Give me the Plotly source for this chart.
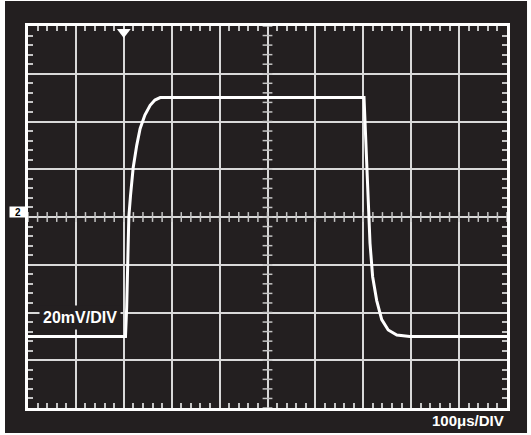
import plotly.graph_objects as go

# tempo em microssegundos, tensao em mV (20mV/div, 100us/div)
time_us = [0, 203.5, 206, 208.5, 210.5, 214, 219.5, 227, 234, 244, 255, 265, 276,
           701.5, 704.5, 707, 710.5, 714, 719.5, 728, 738.5, 752, 770, 797, 1000]
volts_mv = [-50, -50, -38, -10, 0, 9, 20.5, 30, 37, 42.7, 46.8, 49, 50,
            50, 35, 20.5, 1, -11, -25, -35, -43, -47.3, -49.4, -50, -50]

x_range = [0, 1000]
y_range = [-80, 80]
x_div = 100
y_div = 20
x_minor = [t for t in range(0, 1001, 20)]
y_minor = [v for v in range(-80, 81, 4)]
trigger_time = 200
channel_label = '2'
volt_label = '20mV/DIV'
time_label = '100μs/DIV'

bg = '#231f20'
grid = '#d9d9d9'
tick = '#c4c4c4'
font = 'Liberation Sans, Arial, sans-serif'

fig = go.Figure()

# marcas no eixo horizontal central
fig.add_trace(go.Scatter(
    x=x_minor, y=[0] * len(x_minor), mode='markers',
    marker=dict(symbol='line-ns', size=7, line=dict(color=tick, width=1.5)),
    hoverinfo='skip',
))
# marcas no eixo vertical central
fig.add_trace(go.Scatter(
    x=[500] * len(y_minor), y=y_minor, mode='markers',
    marker=dict(symbol='line-ew', size=7, line=dict(color=tick, width=1.5)),
    hoverinfo='skip',
))

# forma de onda
fig.add_trace(go.Scatter(
    x=time_us, y=volts_mv, mode='lines',
    line=dict(color='white', width=3),
    hoverinfo='skip',
))

# marcador do trigger
fig.add_trace(go.Scatter(
    x=[trigger_time], y=[77.5], mode='markers',
    marker=dict(symbol='triangle-down', size=12, color='white', line=dict(width=0)),
    cliponaxis=False, hoverinfo='skip',
))

axis_common = dict(
    showgrid=True, gridcolor=grid, gridwidth=1.5, zeroline=False,
    showline=True, linecolor='white', linewidth=2.5, mirror='ticks',
    ticks='', showticklabels=False, fixedrange=True,
)

fig.update_xaxes(range=x_range, dtick=x_div, tick0=0,
                 minor=dict(ticks='inside', dtick=20, ticklen=5, tickwidth=1.5,
                            tickcolor=tick, showgrid=False),
                 **axis_common)
fig.update_yaxes(range=y_range, dtick=y_div, tick0=0,
                 minor=dict(ticks='inside', dtick=4, ticklen=5, tickwidth=1.5,
                            tickcolor=tick, showgrid=False),
                 **axis_common)

fig.update_layout(
    width=531, height=435,
    margin=dict(l=28, r=24, t=26, b=27),
    paper_bgcolor='white',
    plot_bgcolor=bg,
    showlegend=False,
    hovermode=False,
    shapes=[dict(type='rect', xref='paper', yref='paper', layer='below',
                 x0=-0.048, x1=1.0418, y0=-0.0654, y1=1.0654,
                 fillcolor=bg, line=dict(width=0))],
    annotations=[
        dict(text=f'<b>{channel_label}</b>', xref='paper', yref='y', x=0, y=0,
             xanchor='right', yanchor='bottom', yshift=-1, xshift=-1,
             showarrow=False, bgcolor='white', width=14, height=8, borderpad=1,
             font=dict(family=font, size=10, color='black')),
        dict(text=f'<b>{volt_label}</b>', xref='x', yref='y', x=108, y=-42,
             showarrow=False, bgcolor=bg, borderpad=3,
             font=dict(family=font, size=16, color='white')),
        dict(text=f'<b>{time_label}</b>', xref='paper', yref='paper', x=1, y=-0.034,
             xanchor='right', yanchor='middle', xshift=-1, showarrow=False,
             font=dict(family=font, size=15, color='white')),
    ],
)

# tira a margem padrao do body pra figura ficar no canto da janela
fig.write_html("out.html", config={'displayModeBar': False},
               post_script="document.body.style.margin='0';")
